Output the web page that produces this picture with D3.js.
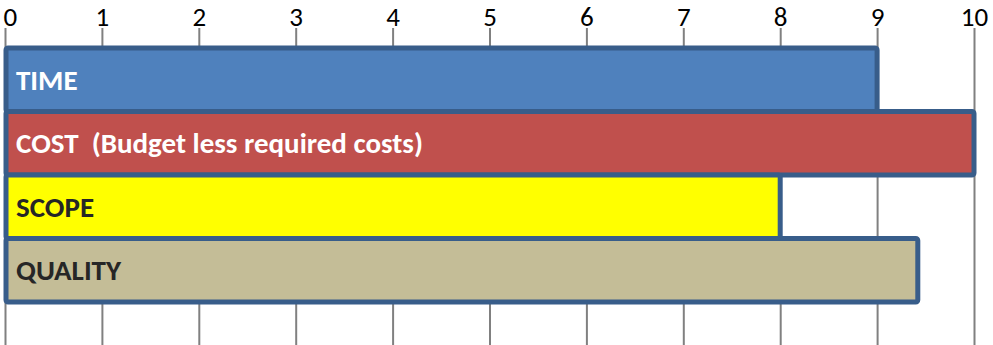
<!DOCTYPE html>
<html>
<head>
<meta charset="utf-8">
<script src="https://cdn.jsdelivr.net/npm/d3@7"></script>
<style>
  html, body { margin: 0; padding: 0; background: #fff; }
  svg { display: block; }
</style>
</head>
<body>
<svg id="chart" width="993" height="345"></svg>
<script>
// Triple-constraint scores
const categories = ["TIME", "COST  (Budget less required costs)", "SCOPE", "QUALITY"];
const values = [9, 10, 8, 9.42];
const fills = ["#4F81BD", "#C0504D", "#FFFF00", "#C4BD97"];
const labelColors = ["#FFFFFF", "#FFFFFF", "#262626", "#262626"];
const tickValues = [0, 1, 2, 3, 4, 5, 6, 7, 8, 9, 10];

const svg = d3.select("#chart");
const W = 993, H = 345;
const font = "Carlito, 'Open Sans', 'Liberation Sans', sans-serif";

const x = d3.scaleLinear().domain([0, 10]).range([5, 974]);
const y = d3.scaleBand().domain(categories).range([48, 302]).padding(0);

// Gridlines and tick labels along the top
const axis = svg.append("g")
  .attr("transform", "translate(0,28)")
  .call(d3.axisTop(x).tickValues(tickValues).tickSize(-(H - 28)).tickPadding(2).tickFormat(d3.format("d")));
axis.select(".domain").remove();
axis.selectAll(".tick line").attr("stroke", "#808080").attr("stroke-width", 2);
axis.selectAll(".tick text")
  .attr("fill", "#000")
  .style("font-family", font)
  .style("font-size", "27px");
// keep the first label inside the left edge
axis.selectAll(".tick text").filter(d => d === 0).attr("text-anchor", "start").attr("x", -2);

// Bars
const bars = svg.append("g").selectAll("g.bar")
  .data(categories.map((c, i) => ({ c, v: values[i], i })))
  .join("g").attr("class", "bar");

bars.append("rect")
  .attr("x", x(0) + 1)
  .attr("y", d => y(d.c))
  .attr("width", d => x(d.v) - x(0) - 1)
  .attr("height", y.bandwidth())
  .attr("rx", 2)
  .attr("fill", d => fills[d.i])
  .attr("stroke", "#385D8A")
  .attr("stroke-width", 5);

bars.append("text")
  .attr("x", x(0) + 11)
  .attr("y", d => y(d.c) + y.bandwidth() / 2)
  .attr("dy", "0.35em")
  .attr("fill", d => labelColors[d.i])
  .style("font-family", font)
  .style("font-weight", "bold")
  .style("font-size", "29px")
  .style("white-space", "pre")
  .text(d => d.c);
</script>
</body>
</html>
